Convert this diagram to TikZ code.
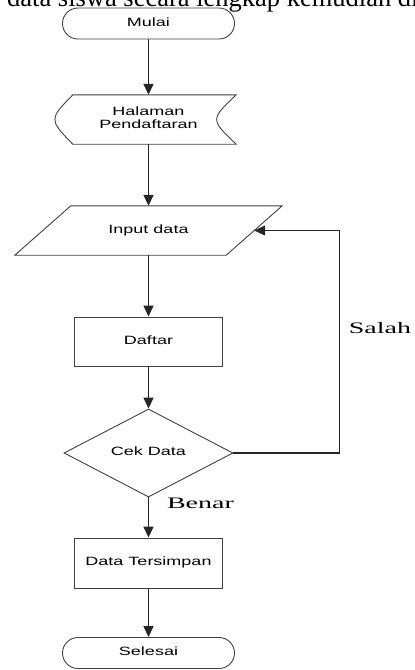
\documentclass[tikz,border=0pt]{standalone}
\usepackage{fontspec}
\setmainfont{Liberation Serif}
\newfontfamily\arial{Liberation Sans}
\usetikzlibrary{shapes.geometric}
\usetikzlibrary{arrows.meta}

% teks diagram agak dilebarkan
\newcommand{\lebar}[1]{\scalebox{1.5}[1]{\begin{tabular}{@{}c@{}}#1\end{tabular}}}
\newcommand{\lebarket}[1]{\scalebox{1.75}[1]{#1}}

\tikzset{
  garis/.style={draw=black!75,line width=0.9pt},
  teks/.style={font=\arial\fontsize{12}{13}\selectfont,inner sep=0pt},
  terminal/.style={garis,teks,rectangle,rounded corners=15.5pt,%
    minimum width=172pt,minimum height=31pt},
  proses/.style={garis,teks,rectangle,minimum width=148pt,minimum height=49pt},
  keputusan/.style={garis,teks,diamond,minimum width=169pt,minimum height=72pt},
  panah/.style={draw=black!85,line width=1.5pt,-{Triangle[length=11pt,width=10pt]}},
  ket/.style={font=\fontsize{16}{18}\selectfont,inner sep=0pt},
}

\begin{document}
\begin{tikzpicture}[x=1pt,y=1pt]
  % ukuran gambar
  \useasboundingbox (0,0) rectangle (415,-670);
  \clip (0,0) rectangle (415,-670);

  % potongan baris teks di atas
  \node[anchor=base west,inner sep=0pt,font=\fontsize{26.5}{30}\selectfont] (baris)
    at (7,-6) {data siswa secara lengkap kemudian di};

  \node[terminal] (mulai) at (148.5,-23.5) {\lebar{Mulai}};

  \node[teks,minimum width=175pt,minimum height=49pt] (halaman) at (148.5,-119.5){%
    \lebar{Halaman\\Pendaftaran}};
  \draw[garis] ([xshift=12pt]halaman.north west) -- (halaman.north east)
    .. controls ([xshift=-26pt]halaman.east) .. (halaman.south east)
    -- ([xshift=12pt]halaman.south west)
    .. controls ([xshift=-12pt]halaman.west) .. ([xshift=12pt]halaman.north west)
    -- cycle;

  \node[teks,minimum width=211pt,minimum height=49pt] (input) at (148.5,-230.5){%
    \lebar{Input data}};
  \draw[garis] ([xshift=28pt]input.north west) -- ([xshift=28pt]input.north east)
    -- ([xshift=-28pt]input.south east) -- ([xshift=-28pt]input.south west) -- cycle;

  \node[proses] (daftar) at (148.5,-341.5) {\lebar{Daftar}};
  \node[keputusan] (cek) at (148.5,-453) {\lebar{Cek Data}};
  \node[proses,minimum height=50pt] (simpan) at (148.5,-563) {\lebar{Data Tersimpan}};
  \node[terminal] (selesai) at (148.5,-653) {\lebar{Selesai}};

  % panah alur
  \draw[panah] (mulai) -- (halaman);
  \draw[panah] (halaman) -- (input);
  \draw[panah] (input) -- (daftar);
  \draw[panah] (daftar) -- (cek);
  \draw[panah] (cek) -- (simpan);
  \draw[panah] (simpan) -- (selesai);
  \draw[panah,line width=1.2pt] (cek.east) -- ++(106,0) |- (input.east);

  \node[ket] (salah) at (380,-328) {\lebarket{Salah}};
  \node[ket] (benar) at (200.5,-503) {\lebarket{Benar}};
\end{tikzpicture}
\end{document}
